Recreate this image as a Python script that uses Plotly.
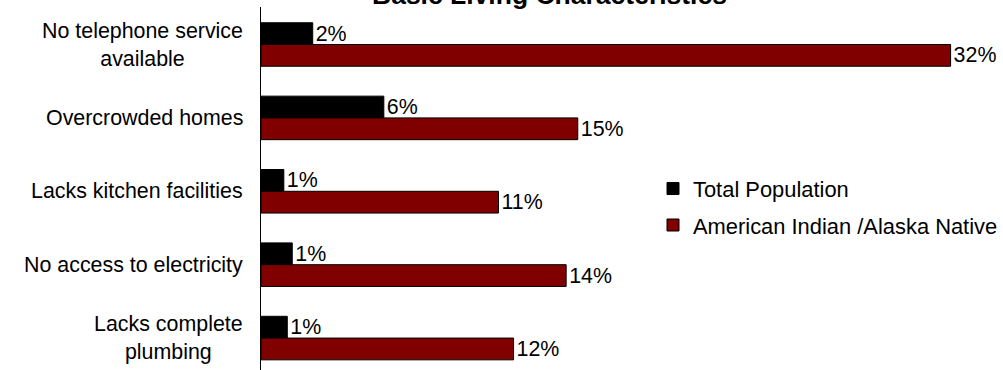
import plotly.graph_objects as go

categories = [
    "No telephone service<br>available",
    "Overcrowded homes",
    "Lacks kitchen facilities",
    "No access to electricity",
    "Lacks complete<br>plumbing",
]
series_names = ["Total Population", "American Indian /Alaska Native"]
total_population = [2.4, 5.7, 1.06, 1.45, 1.22]
american_indian = [32.0, 14.7, 11.02, 14.16, 11.72]
total_labels = ["2%", "6%", "1%", "1%", "1%"]
american_indian_labels = ["32%", "15%", "11%", "14%", "12%"]
title_text = "Basic Living Characteristics"

FONT = "Liberation Sans, Arial, sans-serif"
FS = 21.4

fig = go.Figure()
fig.add_trace(go.Bar(
    y=categories, x=total_population, orientation="h", name=series_names[0],
    marker=dict(color="#000000", line=dict(color="#000000", width=1)),
    text=total_labels, textposition="outside", cliponaxis=False,
    constraintext="none", textfont=dict(family=FONT, size=FS, color="#000000"),
    legendgroup="a", hoverinfo="skip",
))
fig.add_trace(go.Bar(
    y=categories, x=american_indian, orientation="h", name=series_names[1],
    marker=dict(color="#800000", line=dict(color="#000000", width=1)),
    text=american_indian_labels, textposition="outside", cliponaxis=False,
    constraintext="none", textfont=dict(family=FONT, size=FS, color="#000000"),
    legendgroup="b", hoverinfo="skip",
))

annotations = [
    dict(text=c, x=0, xref="paper", y=c, yref="y", xanchor="right", yanchor="middle",
         xshift=-16, align="center", showarrow=False,
         font=dict(family=FONT, size=FS, color="#000000"))
    for c in categories
]
annotations.append(dict(
    text="<b>" + title_text + "</b>", x=0.3888, xref="paper", y=1, yref="paper",
    xanchor="center", yanchor="bottom", yshift=-5, showarrow=False,
    font=dict(family=FONT, size=26.5, color="#000000"),
))

fig.update_layout(
    width=1003, height=370,
    margin=dict(l=261, r=0, t=7, b=0, autoexpand=False),
    paper_bgcolor="white", plot_bgcolor="white",
    barmode="group", bargap=0.407, bargroupgap=0,
    font=dict(family=FONT, size=FS, color="#000000"),
    showlegend=True,
    legend=dict(
        x=1, xanchor="right", y=0.557, yanchor="top",
        traceorder="grouped", tracegroupgap=5, borderwidth=0,
        font=dict(family=FONT, size=21.9, color="#000000"),
        bgcolor="rgba(0,0,0,0)",
    ),
    annotations=annotations,
    xaxis=dict(range=[0, 742 / 21.55], showgrid=False, zeroline=False,
               showticklabels=False, showline=False, ticks=""),
    yaxis=dict(categoryorder="array", categoryarray=categories,
               range=[4.435, -0.511], showgrid=False, zeroline=False,
               showticklabels=False, showline=True, linecolor="#000000",
               linewidth=1, ticks=""),
)

fig.write_html(
    "out.html",
    config={"displayModeBar": False},
    post_script="document.body.style.margin='0';document.body.style.overflow='hidden';",
)
